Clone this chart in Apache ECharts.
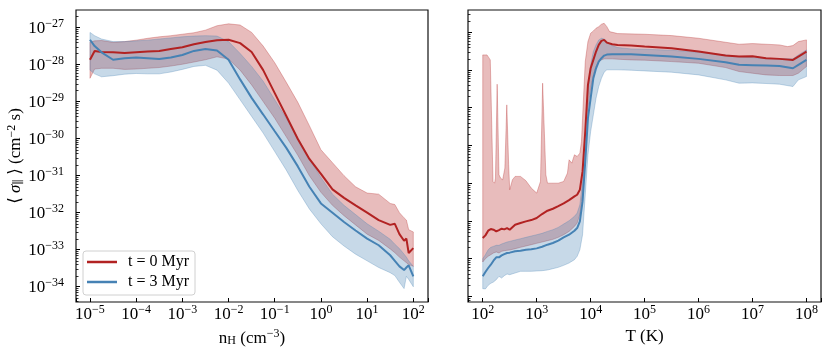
<!DOCTYPE html>
<html><head><meta charset="utf-8">
<script src="https://cdn.jsdelivr.net/npm/echarts@6/dist/echarts.min.js"></script>
<style>html,body{margin:0;padding:0;background:#fff}#c{width:831px;height:353px}</style>
</head><body><div id="c"></div>
<script>
// ---------- LEFT PANEL: vs n_H ----------
const nH = [1e-5, 1.26e-5, 1.78e-5, 3.16e-5, 5.62e-5, 1e-4, 1.78e-4, 3.16e-4, 5.62e-4, 1e-3, 1.78e-3, 3.16e-3, 5.62e-3, 1e-2, 1.78e-2, 3.16e-2, 5.62e-2, 0.1, 0.178, 0.316, 0.562, 1, 1.78, 3.16, 5.62, 10, 17.8, 31.6, 39.8, 50.1, 63.1, 70.8, 79.4, 100];
const redN_mean = [1.35e-28, 2.34e-28, 2.19e-28, 2.14e-28, 2.04e-28, 2.14e-28, 2.24e-28, 2.34e-28, 2.63e-28, 2.95e-28, 3.55e-28, 4.07e-28, 4.57e-28, 4.68e-28, 3.8e-28, 2.19e-28, 7.08e-29, 1.7e-29, 4.07e-30, 9.77e-31, 2.82e-31, 1.12e-31, 4.27e-32, 2.51e-32, 1.58e-32, 1.0e-32, 6.31e-33, 4.68e-33, 5.01e-33, 2.63e-33, 1.74e-33, 2.0e-33, 8.13e-34, 1.1e-33];
const redN_hi = [4.07e-28, 4.37e-28, 4.47e-28, 3.98e-28, 4.17e-28, 4.57e-28, 5.13e-28, 5.62e-28, 6.03e-28, 6.61e-28, 7.24e-28, 8.51e-28, 1.12e-27, 1.26e-27, 1.17e-27, 7.41e-28, 3.16e-28, 1.12e-28, 3.31e-29, 9.55e-30, 2.24e-30, 5.01e-31, 2.24e-31, 1.0e-31, 5.01e-32, 3.39e-32, 3.16e-32, 1.78e-32, 1.66e-32, 1.0e-32, 7.24e-33, 6.31e-33, 3.47e-33, 3.02e-33];
const redN_lo = [4.27e-29, 7.59e-29, 7.94e-29, 7.94e-29, 7.41e-29, 7.59e-29, 7.94e-29, 8.32e-29, 9.12e-29, 1.02e-28, 1.17e-28, 1.35e-28, 1.62e-28, 1.41e-28, 7.08e-29, 2.82e-29, 1.0e-29, 3.55e-30, 1.12e-30, 3.55e-31, 1.0e-31, 3.55e-32, 1.58e-32, 8.32e-33, 4.68e-33, 2.63e-33, 1.78e-33, 1.05e-33, 8.32e-34, 6.31e-34, 5.01e-34, 4.47e-34, 3.98e-34, 3.55e-34];
const blueN_mean = [4.68e-28, 3.16e-28, 2.14e-28, 1.35e-28, 1.48e-28, 1.55e-28, 1.48e-28, 1.41e-28, 1.55e-28, 1.82e-28, 2.34e-28, 2.63e-28, 2.4e-28, 1.35e-28, 3.98e-29, 1.26e-29, 4.47e-30, 1.58e-30, 5.62e-31, 1.78e-31, 5.01e-32, 1.78e-32, 1.0e-32, 5.62e-33, 3.31e-33, 2.0e-33, 1.32e-33, 7.08e-34, 5.01e-34, 3.55e-34, 2.82e-34, 3.31e-34, 3.8e-34, 1.91e-34];
const blueN_hi = [7.41e-28, 6.03e-28, 4.9e-28, 4.17e-28, 4.17e-28, 4.37e-28, 4.57e-28, 4.9e-28, 5.25e-28, 5.62e-28, 5.89e-28, 6.03e-28, 5.89e-28, 4.17e-28, 2.0e-28, 8.91e-29, 3.55e-29, 1.12e-29, 3.55e-30, 1.05e-30, 2.82e-31, 8.91e-32, 3.16e-32, 1.58e-32, 8.91e-33, 5.01e-33, 3.16e-33, 1.91e-33, 1.41e-33, 1.07e-33, 7.59e-34, 6.31e-34, 5.01e-34, 3.55e-34];
const blueN_lo = [7.08e-29, 5.62e-29, 4.68e-29, 5.01e-29, 5.5e-29, 5.75e-29, 5.62e-29, 5.62e-29, 6.31e-29, 7.41e-29, 8.91e-29, 9.55e-29, 7.08e-29, 3.16e-29, 1.12e-29, 3.98e-30, 1.41e-30, 4.47e-31, 1.41e-31, 3.98e-32, 1.26e-32, 5.01e-33, 2.24e-33, 1.26e-33, 7.59e-34, 5.01e-34, 3.31e-34, 2.4e-34, 2.0e-34, 1.32e-34, 8.91e-35, 1.91e-34, 1.58e-34, 1.0e-34];

// ---------- RIGHT PANEL: vs T ----------
const T = [100, 112, 126, 141, 158, 178, 200, 224, 251, 282, 316, 398, 501, 631, 794, 1000, 1259, 1585, 1995, 2512, 3162, 3981, 5012, 5623, 6310, 7079, 7943, 8913, 1e4, 11220, 12589, 14125, 15849, 17783, 19953, 25119, 31623, 56234, 1e5, 316228, 1e6, 3.16e6, 5.62e6, 1e7, 1.78e7, 3.16e7, 5.62e7, 7.08e7, 1e8];
const redT_mean = [3.51e-33, 4.13e-33, 5.5e-33, 6.08e-33, 5.83e-33, 5.27e-33, 5.71e-33, 6.21e-33, 5.96e-33, 6.46e-33, 5.83e-33, 7.91e-33, 8.77e-33, 9.7e-33, 1.05e-32, 1.19e-32, 1.52e-32, 1.86e-32, 2.1e-32, 2.47e-32, 2.91e-32, 3.56e-32, 4.46e-32, 4.93e-32, 6.68e-32, 2.05e-31, 2.34e-30, 4.03e-29, 1.11e-28, 1.85e-28, 3.08e-28, 4.62e-28, 5.9e-28, 6.27e-28, 5.32e-28, 4.81e-28, 4.62e-28, 4.44e-28, 4.17e-28, 3.77e-28, 3.08e-28, 2.41e-28, 2.27e-28, 2.32e-28, 2.05e-28, 1.97e-28, 1.85e-28, 2.27e-28, 3.08e-28];
const redT_lo = [8.13e-34, 9.95e-34, 1.15e-33, 1.27e-33, 1.41e-33, 1.5e-33, 1.41e-33, 1.56e-33, 1.62e-33, 1.66e-33, 1.69e-33, 1.83e-33, 1.99e-33, 2.16e-33, 2.34e-33, 2.54e-33, 2.75e-33, 2.99e-33, 3.24e-33, 3.66e-33, 4.3e-33, 5.27e-33, 7.15e-33, 8.77e-33, 1.46e-32, 4.93e-32, 6.92e-31, 9.72e-30, 3.29e-29, 7.41e-29, 1.23e-28, 1.67e-28, 1.85e-28, 1.97e-28, 1.97e-28, 1.97e-28, 1.93e-28, 1.85e-28, 1.82e-28, 1.67e-28, 1.51e-28, 1.16e-28, 9.1e-29, 8.2e-29, 7.41e-29, 7.13e-29, 7.13e-29, 8.2e-29, 1.23e-28];
const blueT_mean = [3.39e-34, 4.41e-34, 5.64e-34, 6.9e-34, 8.81e-34, 1.08e-33, 1.08e-33, 1.22e-33, 1.32e-33, 1.41e-33, 1.44e-33, 1.56e-33, 1.62e-33, 1.72e-33, 1.76e-33, 1.87e-33, 2.07e-33, 2.34e-33, 2.59e-33, 2.99e-33, 3.66e-33, 4.3e-33, 5.5e-33, 6.46e-33, 9.7e-33, 3.28e-32, 3.76e-31, 5.28e-30, 1.79e-29, 6.05e-29, 1.11e-28, 1.67e-28, 2.05e-28, 2.41e-28, 2.56e-28, 2.61e-28, 2.61e-28, 2.61e-28, 2.51e-28, 2.27e-28, 1.97e-28, 1.61e-28, 1.37e-28, 1.34e-28, 1.31e-28, 1.28e-28, 1.11e-28, 1.37e-28, 1.85e-28];
const blueT_hi = [9.95e-34, 1.27e-33, 1.72e-33, 1.99e-33, 2.11e-33, 2.25e-33, 2.25e-33, 2.44e-33, 2.59e-33, 2.75e-33, 2.86e-33, 3.11e-33, 3.37e-33, 3.66e-33, 3.97e-33, 4.3e-33, 4.67e-33, 5.27e-33, 5.83e-33, 6.73e-33, 8.24e-33, 1.01e-32, 1.32e-32, 1.61e-32, 2.68e-32, 1.11e-31, 1.91e-30, 2.69e-29, 1.37e-28, 3.08e-28, 4.62e-28, 6.27e-28, 6.93e-28, 6.65e-28, 5.66e-28, 4.44e-28, 3.93e-28, 3.62e-28, 3.55e-28, 3.34e-28, 2.95e-28, 2.51e-28, 2.27e-28, 2.13e-28, 2.05e-28, 1.97e-28, 1.97e-28, 2.51e-28, 3.4e-28];
const blueT_lo = [1.6e-34, 1.57e-34, 1.96e-34, 2.21e-34, 2.4e-34, 2.77e-34, 3.39e-34, 3.06e-34, 3.53e-34, 3.91e-34, 3.75e-34, 4.16e-34, 4.6e-34, 4.6e-34, 4.6e-34, 4.7e-34, 4.79e-34, 4.99e-34, 5.41e-34, 5.87e-34, 6.63e-34, 7.65e-34, 9.37e-34, 1.15e-33, 1.72e-33, 4.3e-33, 4.93e-32, 5.65e-31, 2.34e-30, 6.47e-30, 1.79e-29, 3.64e-29, 6.05e-29, 8.73e-29, 1.01e-28, 1.01e-28, 1.01e-28, 9.86e-29, 9.46e-29, 8.73e-29, 7.41e-29, 5.47e-29, 4.47e-29, 4.55e-29, 4.38e-29, 4.2e-29, 3.64e-29, 5.47e-29, 6.7e-29];
// upper edge of the t = 0 band has its own (finer) temperature sampling because of the spikes
const T_redHi = [100, 120, 138, 155, 166, 172, 185, 200, 214, 234, 257, 279, 302, 316, 355, 398, 501, 631, 794, 1000, 1175, 1288, 1479, 1585, 1995, 2512, 3162, 3715, 3981, 4467, 5012, 5623, 6310, 6761, 7079, 7943, 8913, 1e4, 11220, 12589, 14125, 15849, 17783, 19953, 22387, 31623, 1e5, 316228, 1e6, 3.16e6, 5.62e6, 1e7, 1.78e7, 3.16e7, 4.47e7, 5.62e7, 7.08e7, 1e8];
const redT_hi = [2.51e-28, 2.51e-28, 1.85e-28, 1.11e-31, 1.0e-31, 1.36e-31, 4.2e-29, 1.67e-31, 1.36e-31, 1.23e-31, 2.51e-31, 1.19e-29, 3.07e-31, 6.68e-32, 1.23e-31, 1.51e-31, 1.51e-31, 1.16e-31, 7.4e-32, 5.46e-32, 1.11e-31, 4.47e-29, 1.67e-31, 1.0e-31, 1.0e-31, 1.0e-31, 1.11e-31, 1.85e-31, 4.17e-31, 3.4e-31, 5.65e-31, 5.1e-31, 6.25e-31, 1.27e-30, 5.28e-30, 1.67e-28, 5.66e-28, 9.42e-28, 1.08e-27, 1.28e-27, 1.41e-27, 1.63e-27, 1.73e-27, 1.41e-27, 1.04e-27, 9.22e-28, 8.85e-28, 8.16e-28, 6.93e-28, 5.43e-28, 4.81e-28, 5.01e-28, 4.81e-28, 4.62e-28, 4.17e-28, 4.44e-28, 5.66e-28, 6.27e-28];

const seriesNames = ['t = 0 Myr', 't = 3 Myr'];
const FONT = '"Liberation Serif", "DejaVu Serif", serif';
const RED = '#b22222', BLUE = '#4682b4';
const RED_F = 'rgba(178,34,34,0.30)', BLUE_F = 'rgba(70,130,180,0.30)';

function pairs(xs, ys) { return xs.map((x, i) => [x, ys[i]]); }

function lineSeries(name, xi, xs, ys, color) {
  return { type: 'line', name: name, xAxisIndex: xi, yAxisIndex: xi, data: pairs(xs, ys),
    symbol: 'none', showSymbol: false, smooth: false, silent: true, animation: false,
    lineStyle: { color: color, width: 2 }, itemStyle: { color: color } };
}
function bandSeries(xi, xHi, yHi, xLo, yLo, fill) {
  return { type: 'custom', xAxisIndex: xi, yAxisIndex: xi, silent: true, animation: false, clip: true,
    data: [[xHi[0], yHi[0]]],
    renderItem: function (params, api) {
      const pts = [];
      for (let i = 0; i < xHi.length; i++) pts.push(api.coord([xHi[i], yHi[i]]));
      for (let i = xLo.length - 1; i >= 0; i--) pts.push(api.coord([xLo[i], yLo[i]]));
      return { type: 'polygon', shape: { points: pts }, style: { fill: fill, stroke: fill, lineWidth: 1 } };
    } };
}
function minorTicks(xi, xMin, yMin, yMax) {
  const vals = [];
  for (let e = -36; e <= -25; e++) for (let m = 2; m <= 9; m++) {
    const v = m * Math.pow(10, e); if (v > yMin && v < yMax) vals.push([xMin, v]);
  }
  return { type: 'custom', xAxisIndex: xi, yAxisIndex: xi, silent: true, animation: false, clip: false, z: 10,
    data: vals,
    renderItem: function (params, api) {
      const p = api.coord([api.value(0), api.value(1)]);
      const y = Math.round(p[1]) + 0.5;
      return { type: 'line', shape: { x1: p[0], y1: y, x2: p[0] + 2.5, y2: y }, style: { stroke: '#000', lineWidth: 0.8 } };
    } };
}

function expLabel(v) {
  if (!(v > 0) || !isFinite(v)) return '';
  const l = Math.log10(v), e = Math.round(l);
  if (!isFinite(l) || Math.abs(l - e) > 0.01) return '';
  return '{b|10}{s|' + (e < 0 ? '\u2212' + (-e) : String(e)) + '}';
}
const labelRich = {
  b: { fontSize: 17, fontFamily: FONT, color: '#000', verticalAlign: 'bottom' },
  s: { fontSize: 12, fontFamily: FONT, color: '#000', verticalAlign: 'top', padding: [0, 0, 7, 0] }
};
const nameRich = {
  r: { fontSize: 17, fontFamily: FONT, color: '#000', verticalAlign: 'bottom' },
  i: { fontSize: 17, fontFamily: FONT, fontStyle: 'italic', color: '#000', verticalAlign: 'bottom' },
  sub: { fontSize: 12, fontFamily: FONT, color: '#000', verticalAlign: 'bottom', padding: [6, 0, 0, 0] },
  sup: { fontSize: 12, fontFamily: FONT, color: '#000', verticalAlign: 'top', padding: [0, 0, 7, 0] }
};

const xL = [4.98e-6, 208], xR = [53.3, 1.86e8];
const yL = [3.87e-35, 2.98e-27], yR = [7.08e-35, 3.89e-27];

function xAxis(gi, ext, name) {
  return { type: 'log', gridIndex: gi, min: ext[0], max: ext[1],
    axisLine: { show: false }, splitLine: { show: false },
    axisTick: { inside: true, length: 4, lineStyle: { color: '#000', width: 1 } },
    axisLabel: { formatter: expLabel, rich: labelRich, margin: 2, color: '#000', showMinLabel: true, showMaxLabel: true },
    name: name, nameLocation: 'middle', nameGap: 19,
    nameTextStyle: { fontFamily: FONT, fontSize: 17, color: '#000', rich: nameRich } };
}
function yAxis(gi, ext, showLabels) {
  return { type: 'log', gridIndex: gi, min: ext[0], max: ext[1],
    axisLine: { show: false }, splitLine: { show: false },
    axisTick: { inside: true, length: 4, lineStyle: { color: '#000', width: 1 } },
    axisLabel: { show: showLabels, formatter: expLabel, rich: labelRich, margin: 12, color: '#000' } };
}

const chart = echarts.init(document.getElementById('c'), null, { renderer: 'canvas' });
chart.setOption({
  animation: false,
  backgroundColor: '#fff',
  grid: [
    { left: 76, top: 10, width: 352, height: 292, show: true, borderColor: '#111', borderWidth: 1.2, backgroundColor: 'transparent', containLabel: false, outerBoundsMode: 'none' },
    { left: 468, top: 10, width: 353, height: 292, show: true, borderColor: '#111', borderWidth: 1.2, backgroundColor: 'transparent', containLabel: false, outerBoundsMode: 'none' }
  ],
  xAxis: [
    xAxis(0, xL, '{r|n}{sub|H}{r| (cm}{sup|\u22123}{r|)}'),
    xAxis(1, xR, '{r|T (K)}')
  ],
  yAxis: [ yAxis(0, yL, true), yAxis(1, yR, false) ],
  graphic: [{
    type: 'text', x: 15, y: 156, rotation: Math.PI / 2, silent: true,
    style: { text: '{r|\u27E8 }{i|\u03C3}{sub|\u2225}{r| \u27E9 (cm}{sup|\u22122}{r| s)}', rich: nameRich,
      align: 'center', verticalAlign: 'middle', fill: '#000', font: '17px ' + FONT }
  }],
  legend: {
    data: seriesNames, left: 83, top: 251, orient: 'vertical', icon: 'rect',
    itemWidth: 30, itemHeight: 2.5, itemGap: 4, padding: [3, 6, 5, 4],
    backgroundColor: 'rgba(255,255,255,0.8)', borderColor: '#d0d0d0', borderWidth: 1, borderRadius: 3,
    textStyle: { fontFamily: FONT, fontSize: 16, color: '#000', lineHeight: 16, padding: [0, 0, 0, 6] },
    selectedMode: false, z: 20
  },
  series: [
    lineSeries(seriesNames[0], 0, nH, redN_mean, RED),
    bandSeries(0, nH, redN_hi, nH, redN_lo, RED_F),
    lineSeries(seriesNames[1], 0, nH, blueN_mean, BLUE),
    bandSeries(0, nH, blueN_hi, nH, blueN_lo, BLUE_F),
    lineSeries(seriesNames[0], 1, T, redT_mean, RED),
    bandSeries(1, T_redHi, redT_hi, T, redT_lo, RED_F),
    lineSeries(seriesNames[1], 1, T, blueT_mean, BLUE),
    bandSeries(1, T, blueT_hi, T, blueT_lo, BLUE_F),
    minorTicks(0, xL[0], yL[0], yL[1]),
    minorTicks(1, xR[0], yR[0], yR[1])
  ]
});
</script></body></html>
